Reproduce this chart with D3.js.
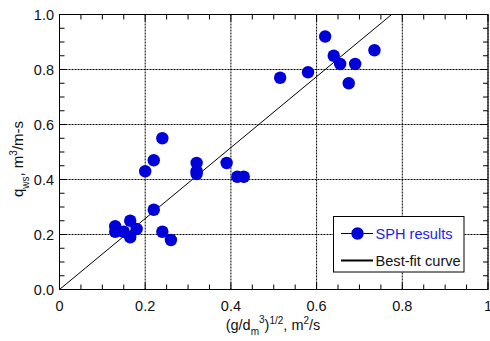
<!DOCTYPE html>
<html>
<head>
<meta charset="utf-8">
<script src="https://cdn.jsdelivr.net/npm/d3@7"></script>
<style>
  body { margin: 0; background: #fff; }
  svg { display: block; font-family: "Liberation Sans", Arial, sans-serif; }
</style>
</head>
<body>
<div id="chart"></div>
<script>
// SPH results
const sphX = [0.13, 0.13, 0.15, 0.165, 0.165, 0.18, 0.20, 0.22, 0.22, 0.24, 0.24, 0.26, 0.32, 0.32, 0.32, 0.39, 0.415, 0.43, 0.515, 0.58, 0.62, 0.64, 0.655, 0.675, 0.69, 0.735];
const sphY = [0.23, 0.21, 0.21, 0.25, 0.19, 0.22, 0.43, 0.47, 0.29, 0.55, 0.21, 0.18, 0.46, 0.43, 0.42, 0.46, 0.41, 0.41, 0.77, 0.79, 0.92, 0.85, 0.82, 0.75, 0.82, 0.87];

// best-fit curve
const fitX = [0, 0.775];
const fitY = [0, 1.0];

const xTicks = [0, 0.2, 0.4, 0.6, 0.8, 1];
const yTicks = [0, 0.2, 0.4, 0.6, 0.8, 1.0];
const xTickLabels = ["0", "0.2", "0.4", "0.6", "0.8", "1"];
const yTickLabels = ["0.0", "0.2", "0.4", "0.6", "0.8", "1.0"];

const width = 490, height = 341;
const x = d3.scaleLinear().domain([0, 1]).range([59.5, 488]);
const y = d3.scaleLinear().domain([0, 1]).range([289.5, 14.5]);

const svg = d3.select('#chart').append('svg')
  .attr('width', width)
  .attr('height', height);

// grid
const grid = svg.append('g').attr('stroke', '#000').attr('stroke-width', 1).attr('stroke-dasharray', '2,1');
grid.selectAll('.gx').data(xTicks).enter().append('line')
  .attr('x1', d => x(d)).attr('x2', d => x(d))
  .attr('y1', y(0)).attr('y2', y(1));
grid.selectAll('.gy').data(yTicks).enter().append('line')
  .attr('x1', x(0)).attr('x2', x(1))
  .attr('y1', d => y(d)).attr('y2', d => y(d));

// frame
svg.append('rect')
  .attr('x', x(0)).attr('y', y(1))
  .attr('width', x(1) - x(0)).attr('height', y(0) - y(1))
  .attr('fill', 'none').attr('stroke', '#000').attr('stroke-width', 1);

// ticks (inward, all four sides)
const minor = d3.range(0, 1.0001, 0.05);
const ticks = svg.append('g').attr('stroke', '#000').attr('stroke-width', 1);
minor.forEach(v => {
  const len = Math.abs(v * 5 - Math.round(v * 5)) < 1e-6 ? 7 : 5;
  ticks.append('line').attr('x1', x(v)).attr('x2', x(v)).attr('y1', y(0)).attr('y2', y(0) - len);
  ticks.append('line').attr('x1', x(v)).attr('x2', x(v)).attr('y1', y(1)).attr('y2', y(1) + len);
  ticks.append('line').attr('y1', y(v)).attr('y2', y(v)).attr('x1', x(0)).attr('x2', x(0) + len);
  ticks.append('line').attr('y1', y(v)).attr('y2', y(v)).attr('x1', x(1)).attr('x2', x(1) - len);
});

// tick labels
svg.append('g').selectAll('text').data(xTicks).enter().append('text')
  .attr('x', d => x(d)).attr('y', 311)
  .attr('text-anchor', 'middle')
  .attr('font-size', 14.5).attr('fill', '#111')
  .text((d, i) => xTickLabels[i]);
svg.append('g').selectAll('text').data(yTicks).enter().append('text')
  .attr('x', 54).attr('y', d => y(d) + 5)
  .attr('text-anchor', 'end')
  .attr('font-size', 14.5).attr('fill', '#111')
  .text((d, i) => yTickLabels[i]);

// x axis title
const xt = svg.append('text')
  .attr('x', 273).attr('y', 330)
  .attr('text-anchor', 'middle')
  .attr('font-size', 14.5).attr('fill', '#111');
xt.append('tspan').text('(g/d');
xt.append('tspan').attr('font-size', 10).attr('dy', 5).text('m');
xt.append('tspan').attr('font-size', 10).attr('dy', -12).text('3');
xt.append('tspan').attr('dy', 7).text(')');
xt.append('tspan').attr('font-size', 10).attr('dy', -6).text('1/2');
xt.append('tspan').attr('dy', 6).text(', m');
xt.append('tspan').attr('font-size', 10).attr('dy', -6).text('2');
xt.append('tspan').attr('dy', 6).text('/s');

// y axis title
const yt = svg.append('text')
  .attr('transform', 'translate(23,159) rotate(-90)')
  .attr('text-anchor', 'middle')
  .attr('font-size', 15).attr('fill', '#111');
yt.append('tspan').text('q');
yt.append('tspan').attr('font-size', 10).attr('dy', 6).text('ws');
yt.append('tspan').attr('dy', -6).text(', m');
yt.append('tspan').attr('font-size', 10).attr('dy', -6).text('3');
yt.append('tspan').attr('dy', 6).text('/m-s');

// best-fit line
const line = d3.line().x(d => x(d[0])).y(d => y(d[1]));
svg.append('path')
  .datum(fitX.map((v, i) => [v, fitY[i]]))
  .attr('d', line)
  .attr('fill', 'none').attr('stroke', '#000').attr('stroke-width', 1);

// points
svg.append('g').selectAll('circle')
  .data(sphX.map((v, i) => [v, sphY[i]]))
  .enter().append('circle')
  .attr('cx', d => x(d[0])).attr('cy', d => y(d[1]))
  .attr('r', 6.2)
  .attr('fill', '#0000d8');

// legend
const lg = svg.append('g');
lg.append('rect')
  .attr('x', 333.5).attr('y', 216.5).attr('width', 130.5).attr('height', 55.5)
  .attr('fill', '#fff').attr('stroke', '#000').attr('stroke-width', 1);
lg.append('line').attr('x1', 341).attr('x2', 373).attr('y1', 233.5).attr('y2', 233.5)
  .attr('stroke', '#000').attr('stroke-width', 1);
lg.append('circle').attr('cx', 357.5).attr('cy', 233.5).attr('r', 6.2).attr('fill', '#0000d8');
lg.append('text').attr('x', 375.5).attr('y', 239).attr('font-size', 14.6).attr('fill', '#1c1cf0').text('SPH results');
lg.append('line').attr('x1', 341).attr('x2', 373).attr('y1', 260.5).attr('y2', 260.5)
  .attr('stroke', '#000').attr('stroke-width', 2);
lg.append('text').attr('x', 375.5).attr('y', 266).attr('font-size', 14.6).attr('fill', '#111').text('Best-fit curve');
</script>
</body>
</html>
